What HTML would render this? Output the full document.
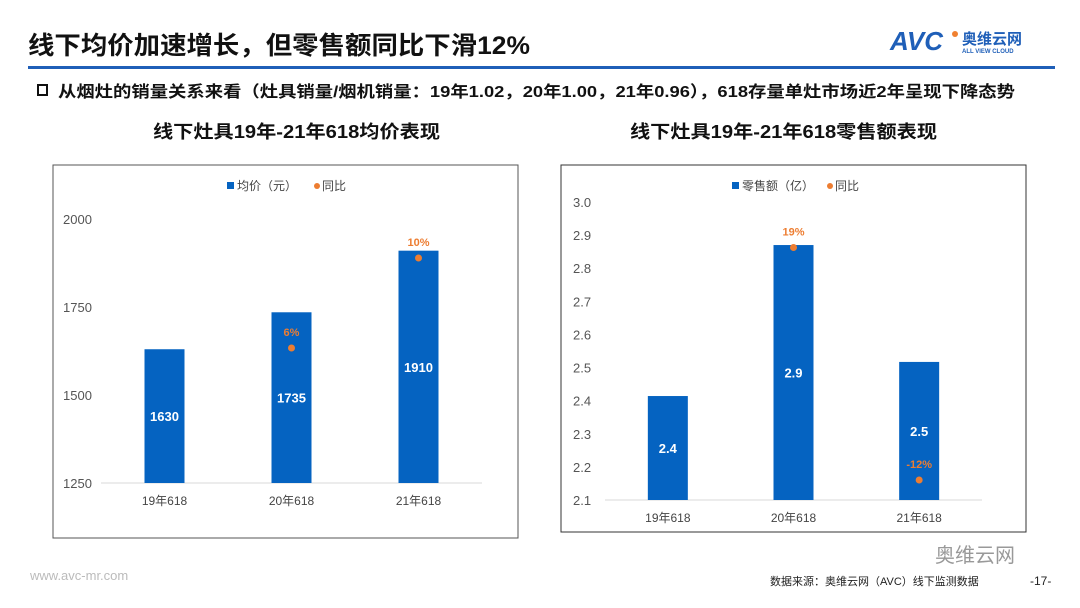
<!DOCTYPE html>
<html><head><meta charset="utf-8"><style>
body{margin:0;width:1080px;height:608px;overflow:hidden;background:#fff;font-family:"Liberation Sans","Noto Sans CJK SC",sans-serif;}
svg{display:block}
</style></head><body>
<svg id="s" width="1080" height="608" xmlns="http://www.w3.org/2000/svg">
<text x="28" y="54" font-size="25" font-weight="bold" fill="#111" textLength="502" lengthAdjust="spacingAndGlyphs">线下均价加速增长，但零售额同比下滑12%</text>
<g>
<text x="890" y="50" font-size="26" font-weight="bold" fill="#1f5fb8" font-style="italic">AVC</text>
<circle cx="955" cy="34" r="3" fill="#f08030"/>
<text x="962" y="44" font-size="15" font-weight="bold" fill="#1f5fb8">奥维云网</text>
<text x="962" y="53" font-size="6" font-weight="bold" fill="#1f5fb8">ALL VIEW CLOUD</text>
</g>
<rect x="28" y="66" width="1027" height="3" fill="#1f5fb8"/>
<rect x="38" y="85" width="9" height="10" fill="none" stroke="#111" stroke-width="2"/>
<text x="58" y="97" font-size="16" font-weight="bold" fill="#111" textLength="957" lengthAdjust="spacingAndGlyphs">从烟灶的销量关系来看（灶具销量/烟机销量：19年1.02，20年1.00，21年0.96），618存量单灶市场近2年呈现下降态势</text>
<text x="153" y="138" font-size="18" font-weight="bold" fill="#111" textLength="287" lengthAdjust="spacingAndGlyphs">线下灶具19年-21年618均价表现</text>
<text x="630" y="138" font-size="18" font-weight="bold" fill="#111" textLength="307" lengthAdjust="spacingAndGlyphs">线下灶具19年-21年618零售额表现</text>
<rect x="53" y="165" width="465" height="373" fill="none" stroke="#555" stroke-width="1"/>
<rect x="561" y="165" width="465" height="367" fill="none" stroke="#333" stroke-width="1"/>
<g id="c1"></g><g id="c2"></g>
<text x="30" y="580" font-size="13" fill="#bbb">www.avc-mr.com</text>
<text x="935" y="562" font-size="20" fill="#999">奥维云网</text>
<text x="770" y="585" font-size="11" fill="#222">数据来源：奥维云网（AVC）线下监测数据</text>
<text x="1030" y="585" font-size="12" fill="#222">-17-</text>
</svg>
<script>
const cats=["19年618","20年618","21年618"];
const priceVals=[1630,1735,1910];
const priceYoY=[null,6,10];
const priceTicks=[1250,1500,1750,2000];
const salesVals=[2.414,2.87,2.517];
const salesLabels=["2.4","2.9","2.5"];
const salesYoY=[null,19,-12];
const salesTicks=[2.1,2.2,2.3,2.4,2.5,2.6,2.7,2.8,2.9,3.0];
const NS="http://www.w3.org/2000/svg";
function mk(p,t,a,txt){const e=document.createElementNS(NS,t);for(const k in a)e.setAttribute(k,a[k]);if(txt!=null)e.textContent=txt;p.appendChild(e);return e;}
function chart(g,o){
 const y=v=>o.y0-(v-o.min)/(o.max-o.min)*(o.y0-o.y1);
 const y2=v=>o.z0-v*o.zs;
 const x=i=>o.xl+(i+0.5)*(o.xr-o.xl)/cats.length;
 o.ticks.forEach(t=>{const e=mk(g,'text',{x:o.tx,y:y(t)+5,'font-size':13,fill:'#555','text-anchor':'start'},o.fmt(t));
 
 });
 const ax=mk(g,'line',{x1:o.xl,x2:o.xr,y1:o.y0,y2:o.y0,stroke:'#d9d9d9'});
 
 
 cats.forEach((c,i)=>{
  const b=mk(g,'rect',{x:x(i)-20,y:y(o.vals[i]),width:40,height:o.y0-y(o.vals[i]),fill:'#0563c1'});
  
  
  const l=mk(g,'text',{x:x(i),y:(y(o.vals[i])+o.y0)/2+o.lo,'text-anchor':'middle','font-size':13,'font-weight':'bold',fill:'#fff'},o.labels[i]);
  
  
  const xl=mk(g,'text',{x:x(i),y:o.y0+22,'text-anchor':'middle','font-size':12,fill:'#444'},c);
  
  
  if(o.yoy[i]!=null){
   const d=mk(g,'circle',{cx:x(i),cy:y2(o.yoy[i]),r:3.5,fill:'#ed7d31'});
   
   
   const t=mk(g,'text',{x:x(i),y:y2(o.yoy[i])-12,'text-anchor':'middle','font-size':11,'font-weight':'bold',fill:'#ed7d31'},o.yoy[i]+'%');
   
   
  }
 });
 const lg=mk(g,'g',{});
 
 
 mk(lg,'rect',{x:o.lgx,y:182,width:7,height:7,fill:'#0563c1'});
 mk(lg,'text',{x:o.lgx+10,y:190,'font-size':12,fill:'#444'},o.lgname);
 mk(lg,'circle',{cx:o.lgx+o.lgw,cy:186,r:3,fill:'#ed7d31'});
 mk(lg,'text',{x:o.lgx+o.lgw+5,y:190,'font-size':12,fill:'#444'},'同比');
}
chart(document.getElementById('c1'),{min:1250,max:2000,y0:483,y1:219,xl:101,xr:482,tx:63,ticks:priceTicks,fmt:t=>String(t),vals:priceVals,labels:priceVals.map(String),yoy:priceYoY,z0:483,zs:22.5,lo:5,lgx:227,lgname:'均价（元）',lgw:90});
chart(document.getElementById('c2'),{min:2.1,max:3.0,y0:500,y1:202,xl:605,xr:982,tx:573,ticks:salesTicks,fmt:t=>t.toFixed(1),vals:salesVals,labels:salesLabels,yoy:salesYoY,z0:390,zs:7.5,lo:5,lgx:732,lgname:'零售额（亿）',lgw:98});
</script>
</body></html>
